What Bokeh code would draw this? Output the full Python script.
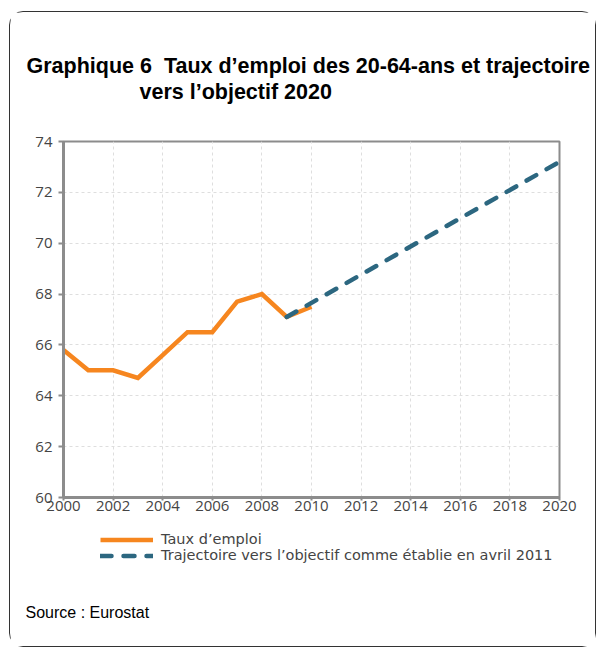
from bokeh.plotting import figure
from bokeh.models import Legend, LegendItem, Title, FixedTicker, ColumnDataSource
from bokeh.layouts import column
from bokeh.embed import file_html
from bokeh.resources import INLINE

# ---- data ----
years = [2000, 2001, 2002, 2003, 2004, 2005, 2006, 2007, 2008, 2009, 2010]
taux_emploi = [65.8, 65.0, 65.0, 64.7, 65.6, 66.5, 66.5, 67.7, 68.0, 67.1, 67.5]
traj_years = [2009, 2020]
trajectoire = [67.1, 73.2]
x_ticks = list(range(2000, 2021, 2))
y_ticks = list(range(60, 75, 2))

title_line1 = "Graphique 6\u00a0 Taux d\u2019emploi des 20-64-ans et trajectoire"
title_line2 = "vers l\u2019objectif 2020"
label_taux = "Taux d\u2019emploi"
label_traj = "Trajectoire vers l\u2019objectif comme \u00e9tablie en avril 2011"
source_text = "Source : Eurostat"

ORANGE = "#f6861f"
TEAL = "#2c6780"
AXIS = "#8c8c8c"
TXT = "#444444"

line_taux = dict(line_color=ORANGE, line_width=4.5, line_join="miter")
line_traj = dict(line_color=TEAL, line_width=4.5, line_dash="11 12", line_cap="round")

# ---------------- main chart ----------------
p = figure(frame_width=496, frame_height=356, x_range=(2000, 2020), y_range=(60, 74),
           output_backend="svg", toolbar_location=None,
           min_border_left=53, min_border_right=36,
           min_border_top=129, min_border_bottom=26)

src1 = ColumnDataSource(dict(x=years, y=taux_emploi))
src2 = ColumnDataSource(dict(x=traj_years, y=trajectoire))
p.line("x", "y", source=src1, **line_taux)
p.line("x", "y", source=src2, **line_traj)

for ax in (p.xaxis[0], p.yaxis[0]):
    ax.axis_line_color = AXIS
    ax.axis_line_width = 3
    ax.major_tick_line_color = AXIS
    ax.major_tick_line_width = 2
    ax.major_tick_in = 0
    ax.minor_tick_line_color = None
    ax.major_label_text_font = "Open Sans"
    ax.major_label_text_font_size = "15px"
    ax.major_label_text_color = TXT
p.xaxis[0].ticker = FixedTicker(ticks=x_ticks)
p.yaxis[0].ticker = FixedTicker(ticks=y_ticks)
p.xaxis[0].major_tick_out = 3
p.yaxis[0].major_tick_out = 5
p.xaxis[0].major_label_standoff = 0
p.yaxis[0].major_label_standoff = 6

p.outline_line_color = AXIS
p.outline_line_width = 2

for g in (p.xgrid[0], p.ygrid[0]):
    g.grid_line_color = "#dedede"
    g.grid_line_dash = "3 3"
    g.grid_line_width = 1

# titles (first added = closest to the frame)
spacer_top = Title(text=".", text_font_size="4px", text_color="#ffffff", standoff=33)
t2 = Title(text=title_line2, align="left", offset=76, standoff=0,
           text_font="Liberation Sans", text_font_size="21.5px",
           text_font_style="bold", text_color="#000000")
t1 = Title(text=title_line1, align="left", offset=-37, standoff=0,
           text_font="Liberation Sans", text_font_size="21.5px",
           text_font_style="bold", text_color="#000000")
p.add_layout(spacer_top, "above")
p.add_layout(t2, "above")
p.add_layout(t1, "above")

# ---------------- legend + source strip ----------------
q = figure(width=585, height=123, x_range=(0, 1), y_range=(0, 1),
           output_backend="svg", toolbar_location=None,
           x_axis_location=None, y_axis_location=None, min_border=0)
q.grid.visible = False
q.outline_line_color = None
# same series; they fall outside this strip's ranges, only their legend swatches show
l1 = q.line("x", "y", source=src1, **line_taux)
l2 = q.line("x", "y", source=src2, **line_traj)

legend = Legend(items=[LegendItem(label=label_taux, renderers=[l1]),
                       LegendItem(label=label_traj, renderers=[l2])],
                location=(37, 12), orientation="vertical",
                glyph_width=53, glyph_height=13, label_height=13,
                label_standoff=8, spacing=0, padding=0, margin=0,
                border_line_color=None, background_fill_alpha=0,
                label_text_font="DejaVu Sans", label_text_font_size="14.5px",
                label_text_color=TXT)
q.add_layout(legend, "center")

src_title = Title(text=source_text, align="left", offset=-38, standoff=52,
                  text_font="Liberation Sans", text_font_size="16px",
                  text_font_style="normal", text_color="#000000")
q.add_layout(src_title, "below")

page = column(p, q, spacing=0,
              styles={"border": "1px solid #333333", "border-radius": "14px",
                      "margin-left": "9px", "margin-top": "11px"})

open("out.html", "w").write(file_html(page, INLINE))
